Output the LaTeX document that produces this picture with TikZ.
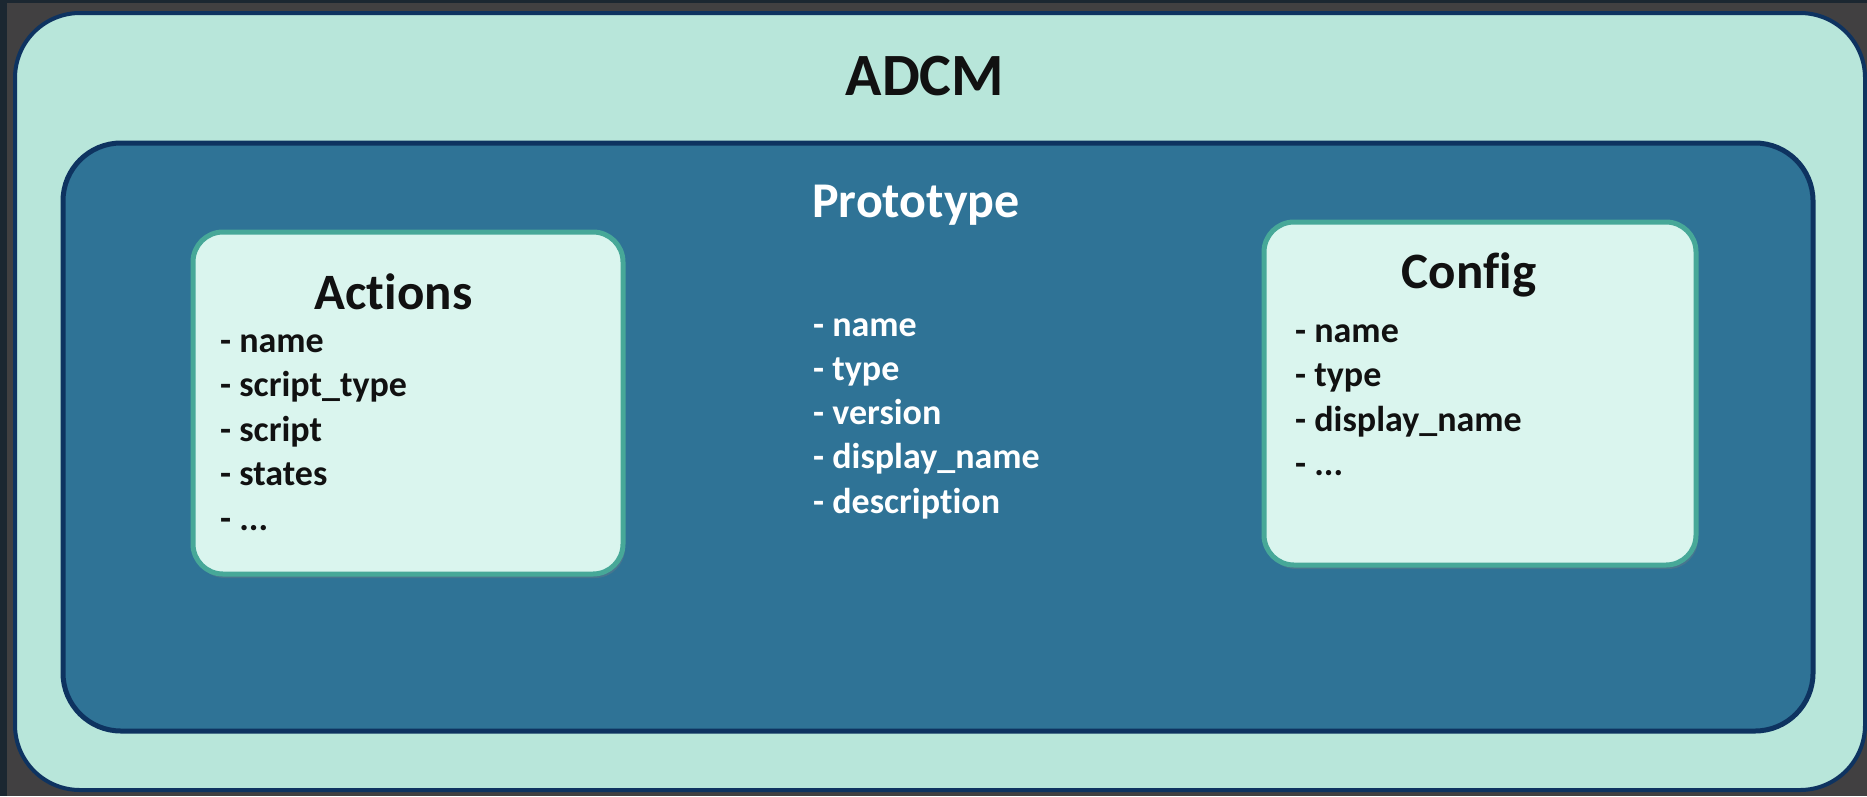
\documentclass[tikz,border=0pt]{standalone}
\usepackage{fontspec}
\setmainfont{Carlito}[Ligatures=NoCommon]
\usetikzlibrary{shadows}
\definecolor{bggray}{HTML}{414041}
\definecolor{bgnavy}{HTML}{1B2731}
\definecolor{outerfill}{HTML}{B8E6DA}
\definecolor{navyline}{HTML}{0E3360}
\definecolor{innerfill}{HTML}{2F7396}
\definecolor{boxfill}{HTML}{DAF5EE}
\definecolor{boxline}{HTML}{47A898}
\definecolor{txtdark}{HTML}{111111}
\begin{document}
\begin{tikzpicture}[x=1pt,y=-1pt,
  outerbox/.style={rectangle, fill=outerfill, draw=navyline, line width=4pt, rounded corners=65pt, inner sep=0pt},
  innerbox/.style={rectangle, fill=innerfill, draw=navyline, line width=5pt, rounded corners=58pt, inner sep=0pt},
  itembox/.style={rectangle, fill=boxfill, draw=boxline, line width=5pt, rounded corners=30pt, inner sep=0pt,
    drop shadow={opacity=0.3, shadow xshift=2pt, shadow yshift=-4pt}},
  maintitle/.style={anchor=base, inner sep=0pt, font=\fontsize{60}{72}\selectfont\bfseries, text=txtdark},
  prototitle/.style={anchor=base, inner sep=0pt, font=\fontsize{50}{60}\selectfont\bfseries, text=white},
  boxtitle/.style={anchor=base, inner sep=0pt, font=\fontsize{51}{61}\selectfont\bfseries, text=txtdark},
  darkitem/.style={anchor=base west, inner sep=0pt, font=\fontsize{36}{44}\selectfont\bfseries, text=txtdark},
  lightitem/.style={anchor=base west, inner sep=0pt, font=\fontsize{36}{44}\selectfont\bfseries, text=white}]
\useasboundingbox (0,0) rectangle (1867,796);
\fill[bggray] (0,0) rectangle (1867,796);
\fill[bgnavy] (0,0) rectangle (1867,3);
\fill[bgnavy] (0,0) rectangle (7,796);
% outer ADCM box
\node[outerbox, minimum width=1850pt, minimum height=777pt] (adcm) at (940,401.5) {};
% inner Prototype box
\node[innerbox, minimum width=1750pt, minimum height=588pt] (proto) at (938,437) {};
% Actions and Config boxes
\node[itembox, minimum width=430pt, minimum height=342pt] (actions) at (408,403) {};
\node[itembox, minimum width=432pt, minimum height=343pt] (config) at (1480,393.5) {};
% titles
\node[maintitle] (adcmtitle) at (925,95) {ADCM};
\node[prototitle] (prototitle) at (916,217) {Prototype};
\node[boxtitle] (actionstitle) at (393.5,309) {Actions};
\node[boxtitle] (configtitle) at (1469,288) {Config};
% prototype fields
\node[lightitem] (pf1) at (813,336) {- name};
\node[lightitem] (pf2) at (813,380.3) {- type};
\node[lightitem] (pf3) at (813,424.6) {- version};
\node[lightitem] (pf4) at (813,468.9) {- display\_name};
\node[lightitem] (pf5) at (813,513.2) {- description};
% action fields
\node[darkitem] (af1) at (220,352) {- name};
\node[darkitem] (af2) at (220,396.5) {- script\_type};
\node[darkitem] (af3) at (220,441) {- script};
\node[darkitem] (af4) at (220,485.5) {- states};
\node[darkitem] (af5) at (220,530) {- ...};
% config fields
\node[darkitem] (cf1) at (1295,342) {- name};
\node[darkitem] (cf2) at (1295,386.5) {- type};
\node[darkitem] (cf3) at (1295,431) {- display\_name};
\node[darkitem] (cf4) at (1295,475.5) {- ...};
\end{tikzpicture}
\end{document}
